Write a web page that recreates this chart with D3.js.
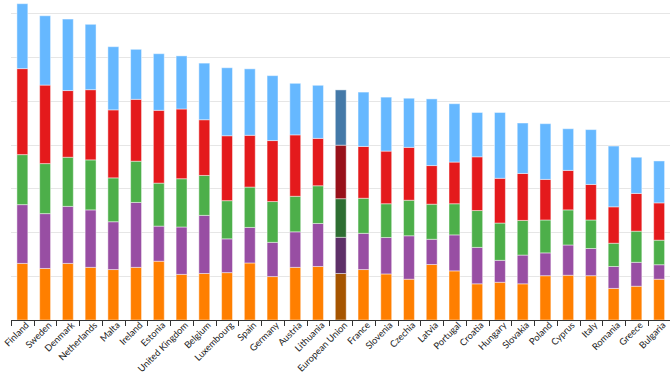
<!DOCTYPE html>
<html>
<head>
<meta charset="utf-8">
<script src="https://cdn.jsdelivr.net/npm/d3@7"></script>
<style>
  body { margin: 0; background: #fff; }
  .axis text { font-family: Lato, "DejaVu Sans", sans-serif; font-size: 9.3px; fill: #222; }
</style>
</head>
<body>
<div id="chart"></div>
<script>
// 国・系列データ
const countries = ['Finland', 'Sweden', 'Denmark', 'Netherlands', 'Malta', 'Ireland', 'Estonia',
  'United Kingdom', 'Belgium', 'Luxembourg', 'Spain', 'Germany', 'Austria', 'Lithuania',
  'European Union', 'France', 'Slovenia', 'Czechia', 'Latvia', 'Portugal', 'Croatia', 'Hungary',
  'Slovakia', 'Poland', 'Cyprus', 'Italy', 'Romania', 'Greece', 'Bulgaria'];

const connectivity = [12.9, 11.75, 12.9, 12.0, 11.5, 12.0, 13.4, 10.4, 10.6, 10.8, 13.0, 9.9, 12.0, 12.2,
  10.6, 11.5, 10.5, 9.3, 12.65, 11.2, 8.25, 8.6, 8.25, 10.1, 10.2, 10.1, 7.2, 7.7, 9.3];
const humanCapital = [13.4, 12.5, 13.0, 13.1, 10.9, 14.8, 8.0, 10.8, 13.25, 7.7, 8.1, 7.8, 8.1, 9.8,
  8.25, 8.25, 8.3, 9.9, 5.75, 8.2, 8.3, 5.0, 6.55, 5.2, 6.9, 6.2, 5.0, 5.45, 3.3];
const internetUse = [11.4, 11.4, 11.2, 11.4, 10.0, 9.4, 9.8, 11.0, 9.1, 8.7, 9.2, 9.3, 8.1, 8.6,
  8.8, 8.0, 7.7, 8.1, 8.0, 7.1, 8.4, 8.5, 7.9, 7.5, 8.0, 6.5, 5.3, 7.1, 5.6];
const integration = [19.6, 17.9, 15.2, 16.0, 15.5, 14.1, 16.6, 15.9, 12.7, 14.8, 11.8, 13.9, 14.0, 10.8,
  12.2, 11.8, 12.0, 12.05, 8.8, 9.5, 12.25, 10.2, 10.7, 9.25, 9.0, 8.1, 8.3, 8.6, 8.5];
const publicServices = [14.8, 15.8, 16.3, 14.9, 14.4, 11.4, 12.9, 12.1, 12.9, 15.5, 15.15, 14.8, 11.75, 12.1,
  12.6, 12.4, 12.3, 11.2, 15.2, 13.3, 10.1, 15.0, 11.5, 12.7, 9.5, 12.5, 13.85, 8.25, 9.55];

const yTicks = [10, 20, 30, 40, 50, 60, 70];

const seriesKeys = ['connectivity', 'humanCapital', 'internetUse', 'integration', 'publicServices'];
const colors = ['#ff7f00', '#984ea3', '#4daf4a', '#e41a1c', '#66b8ff'];
const euColors = ['#a65500', '#5e3068', '#2e6e32', '#98111a', '#4479a8'];

const rows = countries.map((c, i) => ({
  country: c,
  connectivity: connectivity[i],
  humanCapital: humanCapital[i],
  internetUse: internetUse[i],
  integration: integration[i],
  publicServices: publicServices[i]
}));

// svg領域設定
const svgWidth = 670;
const svgHeight = 377;
const svg = d3.select('#chart')
  .append('svg')
  .attr('width', svgWidth)
  .attr('height', svgHeight);

const x = d3.scaleBand()
  .domain(countries)
  .range([11, 670.5]);

const y = d3.scaleLinear()
  .domain([0, 70])
  .range([320, 12.9]);

// グリッド線
svg.append('g')
  .selectAll('line')
  .data(yTicks)
  .join('line')
  .attr('x1', 11)
  .attr('x2', 670)
  .attr('y1', d => Math.round(y(d)) + 0.5)
  .attr('y2', d => Math.round(y(d)) + 0.5)
  .attr('stroke', '#e6e6e6')
  .attr('stroke-width', 1);

// 積み上げ
const stacked = d3.stack().keys(seriesKeys)(rows);
const barW = x.bandwidth() * 0.48;

svg.append('g')
  .selectAll('g')
  .data(stacked)
  .join('g')
  .each(function(layer, li) {
    d3.select(this).selectAll('rect')
      .data(layer)
      .join('rect')
      .attr('x', d => x(d.data.country) + (x.bandwidth() - barW) / 2)
      .attr('width', barW)
      .attr('y', d => y(d[1]))
      .attr('height', d => y(d[0]) - y(d[1]))
      .attr('fill', d => d.data.country === 'European Union' ? euColors[li] : colors[li])
      .attr('stroke', 'rgba(255,255,255,0.45)')
      .attr('stroke-width', 1);
  });

// x軸
const xAxis = svg.append('g')
  .attr('class', 'axis')
  .attr('transform', 'translate(0,320)')
  .call(d3.axisBottom(x).tickSize(0).tickPadding(5));

xAxis.select('.domain')
  .attr('stroke', '#333')
  .attr('d', `M11,0.5H670`);

xAxis.selectAll('text')
  .attr('text-anchor', 'end')
  .attr('transform', 'rotate(-45)')
  .attr('dx', '0.1em')
  .attr('dy', '0.45em');

// 区切りの目盛り
xAxis.append('g')
  .selectAll('line')
  .data(countries)
  .join('line')
  .attr('x1', d => Math.round(x(d)) + 0.5)
  .attr('x2', d => Math.round(x(d)) + 0.5)
  .attr('y1', 0)
  .attr('y2', 6)
  .attr('stroke', '#333');
</script>
</body>
</html>
